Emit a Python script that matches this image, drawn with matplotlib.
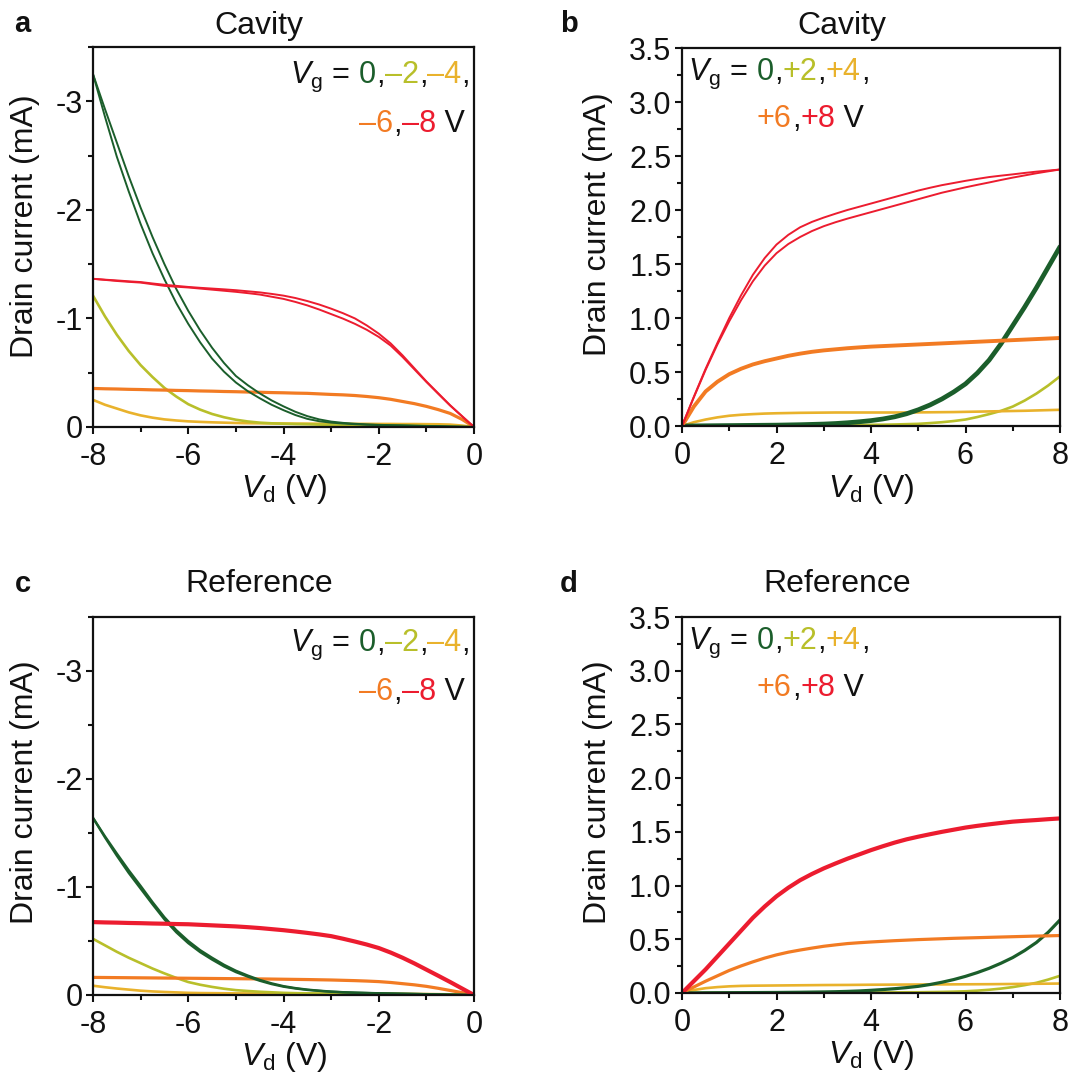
import numpy as np
import matplotlib
matplotlib.use("Agg")
import matplotlib.pyplot as plt
from matplotlib.ticker import MultipleLocator, FormatStrFormatter
from matplotlib.transforms import IdentityTransform

plt.rcParams['font.family'] = ['Liberation Sans', 'DejaVu Sans']
plt.rcParams['mathtext.fontset'] = 'custom'
plt.rcParams['mathtext.rm'] = 'Liberation Sans'
plt.rcParams['mathtext.it'] = 'Liberation Sans:italic'
plt.rcParams['axes.unicode_minus'] = False

# ---------------- data (drain current magnitude, mA), Vd step 0.25 V ----------------
VD_NEG = [-8.0, -7.75, -7.5, -7.25, -7.0, -6.75, -6.5, -6.25, -6.0, -5.75, -5.5, -5.25, -5.0,
          -4.75, -4.5, -4.25, -4.0, -3.75, -3.5, -3.25, -3.0, -2.75, -2.5, -2.25, -2.0,
          -1.75, -1.5, -1.25, -1.0, -0.75, -0.5, -0.25, 0.0]
VD_POS = [0.0, 0.25, 0.5, 0.75, 1.0, 1.25, 1.5, 1.75, 2.0, 2.25, 2.5, 2.75, 3.0, 3.25, 3.5, 3.75,
          4.0, 4.25, 4.5, 4.75, 5.0, 5.25, 5.5, 5.75, 6.0, 6.25, 6.5, 6.75, 7.0, 7.25, 7.5, 7.75, 8.0]

# panel a: Cavity, Vg = 0, -2, -4, -6, -8 V (drain current is negative)
a_vg0_fwd = [3.25, 2.93, 2.62, 2.31, 2.02, 1.75, 1.50, 1.27, 1.07, 0.89, 0.73, 0.59, 0.47, 0.385, 0.31, 0.245,
             0.19, 0.14, 0.10, 0.07, 0.05, 0.038, 0.03, 0.024, 0.02, 0.017, 0.015, 0.012, 0.01, 0.008, 0.005, 0.003, 0.0]
a_vg0_rev = [3.25, 2.86, 2.49, 2.17, 1.87, 1.60, 1.36, 1.14, 0.95, 0.78, 0.63, 0.51, 0.41, 0.33, 0.265, 0.205,
             0.155, 0.11, 0.075, 0.053, 0.04, 0.032, 0.026, 0.021, 0.018, 0.015, 0.013, 0.011, 0.009, 0.007, 0.004, 0.002, 0.0]
a_vgm2 = [1.21, 1.02, 0.85, 0.70, 0.57, 0.46, 0.36, 0.28, 0.21, 0.16, 0.12, 0.09, 0.067, 0.051, 0.04, 0.034,
          0.03, 0.027, 0.025, 0.022, 0.02, 0.018, 0.017, 0.015, 0.014, 0.012, 0.011, 0.01, 0.008, 0.006, 0.004, 0.002, 0.0]
a_vgm4 = [0.25, 0.205, 0.17, 0.135, 0.107, 0.086, 0.07, 0.06, 0.052, 0.047, 0.043, 0.04, 0.037, 0.035, 0.034, 0.033,
          0.032, 0.031, 0.031, 0.03, 0.03, 0.03, 0.029, 0.029, 0.028, 0.028, 0.027, 0.027, 0.026, 0.025, 0.022, 0.013, 0.0]
a_vgm6 = [0.355, 0.352, 0.35, 0.347, 0.345, 0.342, 0.34, 0.337, 0.335, 0.332, 0.33, 0.327, 0.325, 0.322, 0.32, 0.317,
          0.315, 0.312, 0.31, 0.305, 0.30, 0.296, 0.29, 0.281, 0.27, 0.255, 0.235, 0.215, 0.19, 0.16, 0.125, 0.07, 0.0]
a_vgm8_fwd = [1.365, 1.357, 1.35, 1.342, 1.335, 1.322, 1.31, 1.30, 1.29, 1.282, 1.275, 1.268, 1.26, 1.25, 1.24, 1.226,
              1.21, 1.188, 1.16, 1.128, 1.09, 1.048, 1.00, 0.935, 0.86, 0.77, 0.66, 0.54, 0.42, 0.31, 0.20, 0.10, 0.0]
a_vgm8_rev = [1.365, 1.355, 1.345, 1.337, 1.33, 1.315, 1.30, 1.292, 1.285, 1.275, 1.265, 1.255, 1.245, 1.233, 1.22, 1.20,
              1.18, 1.152, 1.12, 1.082, 1.04, 0.998, 0.95, 0.895, 0.83, 0.75, 0.645, 0.53, 0.415, 0.305, 0.197, 0.098, 0.0]

# panel b: Cavity, Vg = 0, +2, +4, +6, +8 V
b_vg0 = [0.0, 0.001, 0.002, 0.003, 0.004, 0.005, 0.006, 0.007, 0.008, 0.01, 0.012, 0.015, 0.018, 0.023, 0.03, 0.039,
         0.05, 0.065, 0.085, 0.113, 0.15, 0.195, 0.25, 0.315, 0.39, 0.49, 0.61, 0.76, 0.93, 1.10, 1.28, 1.47, 1.66]
b_vg2 = [0.0, 0.001, 0.002, 0.002, 0.003, 0.003, 0.004, 0.004, 0.005, 0.005, 0.006, 0.006, 0.007, 0.008, 0.009, 0.01,
         0.011, 0.012, 0.014, 0.017, 0.02, 0.027, 0.035, 0.046, 0.06, 0.083, 0.11, 0.14, 0.18, 0.235, 0.30, 0.375, 0.46]
b_vg4 = [0.0, 0.035, 0.06, 0.08, 0.095, 0.104, 0.11, 0.115, 0.118, 0.12, 0.122, 0.123, 0.124, 0.125, 0.125, 0.125,
         0.125, 0.125, 0.125, 0.125, 0.126, 0.127, 0.128, 0.129, 0.131, 0.133, 0.135, 0.137, 0.139, 0.141, 0.144, 0.147, 0.15]
b_vg6 = [0.0, 0.18, 0.32, 0.41, 0.48, 0.53, 0.57, 0.60, 0.625, 0.65, 0.67, 0.687, 0.70, 0.71, 0.72, 0.728,
         0.735, 0.74, 0.745, 0.75, 0.755, 0.76, 0.765, 0.77, 0.775, 0.78, 0.785, 0.79, 0.795, 0.80, 0.805, 0.81, 0.815]
b_vg8_fwd = [0.0, 0.27, 0.53, 0.77, 1.00, 1.21, 1.40, 1.555, 1.68, 1.77, 1.84, 1.89, 1.93, 1.966, 2.00, 2.03,
             2.06, 2.09, 2.12, 2.15, 2.18, 2.206, 2.23, 2.25, 2.27, 2.288, 2.305, 2.318, 2.33, 2.343, 2.355, 2.365, 2.375]
b_vg8_rev = [0.0, 0.265, 0.52, 0.755, 0.97, 1.165, 1.34, 1.485, 1.60, 1.685, 1.75, 1.805, 1.85, 1.887, 1.92, 1.95,
             1.98, 2.01, 2.04, 2.07, 2.10, 2.13, 2.16, 2.185, 2.21, 2.233, 2.255, 2.278, 2.30, 2.32, 2.34, 2.358, 2.375]

# panel c: Reference, Vg = 0, -2, -4, -6, -8 V (drain current is negative)
c_vg0_fwd = [1.64, 1.47, 1.31, 1.155, 1.01, 0.86, 0.72, 0.60, 0.50, 0.415, 0.345, 0.28, 0.225, 0.18, 0.14, 0.108,
             0.082, 0.064, 0.05, 0.04, 0.032, 0.026, 0.022, 0.019, 0.016, 0.014, 0.012, 0.01, 0.008, 0.006, 0.004, 0.002, 0.0]
c_vg0_rev = [1.64, 1.46, 1.29, 1.13, 0.985, 0.84, 0.70, 0.58, 0.48, 0.397, 0.328, 0.265, 0.212, 0.17, 0.132, 0.101,
             0.077, 0.06, 0.047, 0.038, 0.03, 0.025, 0.021, 0.018, 0.015, 0.013, 0.011, 0.009, 0.007, 0.005, 0.003, 0.002, 0.0]
c_vgm2 = [0.52, 0.46, 0.40, 0.345, 0.295, 0.245, 0.20, 0.158, 0.12, 0.095, 0.075, 0.058, 0.045, 0.037, 0.03, 0.025,
          0.02, 0.017, 0.015, 0.013, 0.012, 0.011, 0.01, 0.0095, 0.009, 0.0085, 0.008, 0.007, 0.006, 0.0045, 0.003, 0.0015, 0.0]
c_vgm4 = [0.086, 0.072, 0.06, 0.05, 0.04, 0.033, 0.028, 0.024, 0.02, 0.018, 0.017, 0.016, 0.015, 0.0145, 0.014, 0.0135,
          0.013, 0.0125, 0.012, 0.012, 0.012, 0.0115, 0.011, 0.011, 0.011, 0.0105, 0.01, 0.0095, 0.009, 0.0075, 0.006, 0.003, 0.0]
c_vgm6 = [0.163, 0.162, 0.161, 0.160, 0.159, 0.158, 0.157, 0.156, 0.155, 0.154, 0.153, 0.152, 0.151, 0.150, 0.149, 0.1475,
          0.146, 0.1445, 0.143, 0.141, 0.139, 0.136, 0.133, 0.129, 0.124, 0.116, 0.105, 0.094, 0.08, 0.062, 0.042, 0.022, 0.0]
c_vgm8 = [0.675, 0.672, 0.67, 0.667, 0.665, 0.662, 0.66, 0.657, 0.655, 0.65, 0.645, 0.64, 0.635, 0.628, 0.62, 0.61,
          0.60, 0.588, 0.575, 0.561, 0.545, 0.521, 0.495, 0.467, 0.435, 0.393, 0.345, 0.292, 0.235, 0.178, 0.12, 0.06, 0.0]

# panel d: Reference, Vg = 0, +2, +4, +6, +8 V
d_vg0 = [0.0, 0.001, 0.002, 0.0025, 0.003, 0.0035, 0.004, 0.0045, 0.005, 0.006, 0.007, 0.0085, 0.01, 0.012, 0.015, 0.019,
         0.025, 0.032, 0.04, 0.05, 0.062, 0.079, 0.10, 0.125, 0.155, 0.19, 0.23, 0.277, 0.33, 0.395, 0.47, 0.565, 0.68]
d_vg2 = [0.0, 0.0005, 0.001, 0.0015, 0.002, 0.002, 0.002, 0.0025, 0.003, 0.003, 0.003, 0.0035, 0.004, 0.004, 0.004, 0.0045,
         0.005, 0.0055, 0.006, 0.0065, 0.007, 0.0085, 0.01, 0.0125, 0.016, 0.022, 0.03, 0.041, 0.055, 0.073, 0.095, 0.125, 0.16]
d_vg4 = [0.0, 0.028, 0.045, 0.055, 0.062, 0.066, 0.068, 0.069, 0.07, 0.071, 0.072, 0.073, 0.074, 0.0745, 0.075, 0.076,
         0.077, 0.0775, 0.078, 0.0785, 0.079, 0.0795, 0.08, 0.0805, 0.081, 0.0815, 0.082, 0.083, 0.084, 0.085, 0.086, 0.087, 0.088]
d_vg6 = [0.0, 0.056, 0.11, 0.16, 0.21, 0.252, 0.29, 0.325, 0.355, 0.38, 0.40, 0.418, 0.435, 0.448, 0.46, 0.468,
         0.475, 0.481, 0.487, 0.492, 0.497, 0.501, 0.505, 0.509, 0.512, 0.515, 0.518, 0.521, 0.524, 0.527, 0.53, 0.532, 0.535]
d_vg8 = [0.0, 0.11, 0.22, 0.34, 0.46, 0.58, 0.70, 0.805, 0.90, 0.98, 1.05, 1.108, 1.16, 1.206, 1.25, 1.29,
         1.33, 1.366, 1.40, 1.43, 1.455, 1.478, 1.50, 1.52, 1.54, 1.556, 1.57, 1.583, 1.595, 1.603, 1.61, 1.618, 1.625]

TITLES = ["Cavity", "Cavity", "Reference", "Reference"]
LETTERS = ["a", "b", "c", "d"]
NEG_YTICKS = [0, -1, -2, -3]
POS_YTICKS = [0.0, 0.5, 1.0, 1.5, 2.0, 2.5, 3.0, 3.5]
NEG_XTICKS = [-8, -6, -4, -2, 0]
POS_XTICKS = [0, 2, 4, 6, 8]

C_G = '#1b5e2b'
C_YG = '#b8bf2a'
C_Y = '#e9b22c'
C_O = '#f27b23'
C_R = '#ec1c2f'
INK = '#111111'

W, H = 1071, 1078
fig = plt.figure(figsize=(W / 100, H / 100), dpi=100)

def px_axes(l, t, r, b):
    return fig.add_axes([l / W, 1 - b / H, (r - l) / W, (b - t) / H])

ax_a = px_axes(93, 47, 474, 427)
ax_b = px_axes(682, 48, 1060, 426)
ax_c = px_axes(93, 617, 474, 995)
ax_d = px_axes(682, 617, 1060, 993)

def neg(v):
    return -np.asarray(v)

LW1 = 1.9   # single line
LW2 = 1.4   # one of a visibly separated pair
LW3 = 3.0   # overlapping pair
kw = dict(solid_joinstyle='round', solid_capstyle='round')

# panel a
ax_a.plot(VD_NEG, neg(a_vgm4), color=C_Y, lw=LW1, **kw)
ax_a.plot(VD_NEG, neg(a_vgm2), color=C_YG, lw=LW1, **kw)
ax_a.plot(VD_NEG, neg(a_vgm6), color=C_O, lw=2.3, **kw)
ax_a.plot(VD_NEG, neg(a_vg0_fwd), color=C_G, lw=LW2, **kw)
ax_a.plot(VD_NEG, neg(a_vg0_rev), color=C_G, lw=LW2, **kw)
ax_a.plot(VD_NEG, neg(a_vgm8_fwd), color=C_R, lw=LW2, **kw)
ax_a.plot(VD_NEG, neg(a_vgm8_rev), color=C_R, lw=LW2, **kw)

# panel b
ax_b.plot(VD_POS, b_vg2, color=C_YG, lw=LW1, **kw)
ax_b.plot(VD_POS, b_vg4, color=C_Y, lw=LW1, **kw)
ax_b.plot(VD_POS, b_vg0, color=C_G, lw=3.4, **kw)
ax_b.plot(VD_POS, b_vg6, color=C_O, lw=2.8, **kw)
ax_b.plot(VD_POS, b_vg8_fwd, color=C_R, lw=LW2, **kw)
ax_b.plot(VD_POS, b_vg8_rev, color=C_R, lw=LW2, **kw)

# panel c
ax_c.plot(VD_NEG, neg(c_vgm4), color=C_Y, lw=LW1, **kw)
ax_c.plot(VD_NEG, neg(c_vgm2), color=C_YG, lw=LW1, **kw)
ax_c.plot(VD_NEG, neg(c_vgm6), color=C_O, lw=2.3, **kw)
ax_c.plot(VD_NEG, neg(c_vg0_fwd), color=C_G, lw=1.7, **kw)
ax_c.plot(VD_NEG, neg(c_vg0_rev), color=C_G, lw=1.7, **kw)
ax_c.plot(VD_NEG, neg(c_vgm8), color=C_R, lw=LW3, **kw)

# panel d
ax_d.plot(VD_POS, d_vg2, color=C_YG, lw=LW1, **kw)
ax_d.plot(VD_POS, d_vg4, color=C_Y, lw=LW1, **kw)
ax_d.plot(VD_POS, d_vg0, color=C_G, lw=2.3, **kw)
ax_d.plot(VD_POS, d_vg6, color=C_O, lw=2.3, **kw)
ax_d.plot(VD_POS, d_vg8, color=C_R, lw=LW3, **kw)

TICK_FS = 22
for ax in (ax_a, ax_c):
    ax.set_xlim(-8, 0)
    ax.set_ylim(0, -3.5)
    ax.set_xticks(NEG_XTICKS)
    ax.set_yticks(NEG_YTICKS)
    ax.xaxis.set_minor_locator(MultipleLocator(1))
    ax.yaxis.set_minor_locator(MultipleLocator(0.5))
    ax.yaxis.set_major_formatter(FormatStrFormatter('%d'))
for ax in (ax_b, ax_d):
    ax.set_xlim(0, 8)
    ax.set_ylim(0, 3.5)
    ax.set_xticks(POS_XTICKS)
    ax.set_yticks(POS_YTICKS)
    ax.xaxis.set_minor_locator(MultipleLocator(1))
    ax.yaxis.set_minor_locator(MultipleLocator(0.25))
    ax.yaxis.set_major_formatter(FormatStrFormatter('%.1f'))

for ax in (ax_a, ax_b, ax_c, ax_d):
    for s in ax.spines.values():
        s.set_linewidth(1.6)
        s.set_color(INK)
    ax.tick_params(which='major', direction='out', length=5, width=1.5,
                   labelsize=TICK_FS, colors=INK)
    ax.tick_params(which='minor', direction='out', length=3.5, width=1.5, colors=INK)
    ax.tick_params(axis='x', which='major', pad=6)
    ax.tick_params(axis='y', which='major', pad=2.5)

LAB_FS = 23
renderer = fig.canvas.get_renderer()

def ptext(x, y, s, **kwargs):
    return fig.text(x, H - y, s, transform=IdentityTransform(), **kwargs)

def width_of(s, size):
    t1 = ptext(0, 0, "X" + s + "X", fontsize=size)
    t2 = ptext(0, 0, "XX", fontsize=size)
    w = t1.get_window_extent(renderer).width - t2.get_window_extent(renderer).width
    t1.remove(); t2.remove()
    return w

def colored(x, y, parts, size=22, ha='left'):
    widths = [width_of(s, size) for s, _ in parts]
    total = sum(widths)
    cur = x - total if ha == 'right' else x
    for (s, c), w in zip(parts, widths):
        ptext(cur, y, s, color=c, fontsize=size, ha='left', va='baseline')
        cur += w

EN = '\u2013'
VG = r'$V_\mathrm{g}$ = '
neg_line1 = [(VG, INK), ('0', C_G), (',', INK), (EN + '2', C_YG), (',', INK), (EN + '4', C_Y), (',', INK)]
neg_line2 = [(EN + '6', C_O), (',', INK), (EN + '8', C_R), (' V', INK)]
pos_line1 = [(VG, INK), ('0', C_G), (',', INK), ('+2', C_YG), (',', INK), ('+4', C_Y), (',', INK)]
pos_line2 = [('+6', C_O), (',', INK), ('+8', C_R), (' V', INK)]

colored(470, 83, neg_line1, ha='right')
colored(465, 132, neg_line2, ha='right')
colored(470, 651, neg_line1, ha='right')
colored(465, 700, neg_line2, ha='right')
colored(688, 80, pos_line1)
colored(757, 127, pos_line2)
colored(688, 649, pos_line1)
colored(757, 696, pos_line2)

# titles, panel letters, axis labels
title_pos = [(259, 34), (842, 34), (259, 592), (837, 592)]
letter_pos = [(14, 32), (560, 32), (15, 592), (560, 592)]
ylab_pos = [(25, 226), (598, 224), (25, 792), (598, 792)]
xlab_pos = [(284, 497), (871, 497), (284, 1065), (871, 1063)]
for i in range(4):
    ptext(*title_pos[i], TITLES[i], fontsize=LAB_FS, ha='center', va='baseline', color=INK)
    ptext(*letter_pos[i], LETTERS[i], fontsize=21, fontweight='bold', ha='left', va='baseline', color=INK)
    ptext(*ylab_pos[i], 'Drain current (mA)', fontsize=LAB_FS, rotation=90, ha='center', va='center', color=INK)
    ptext(*xlab_pos[i], r'$V_\mathrm{d}$ (V)', fontsize=LAB_FS, ha='center', va='baseline', color=INK)

fig.savefig('out.png', dpi=100)
